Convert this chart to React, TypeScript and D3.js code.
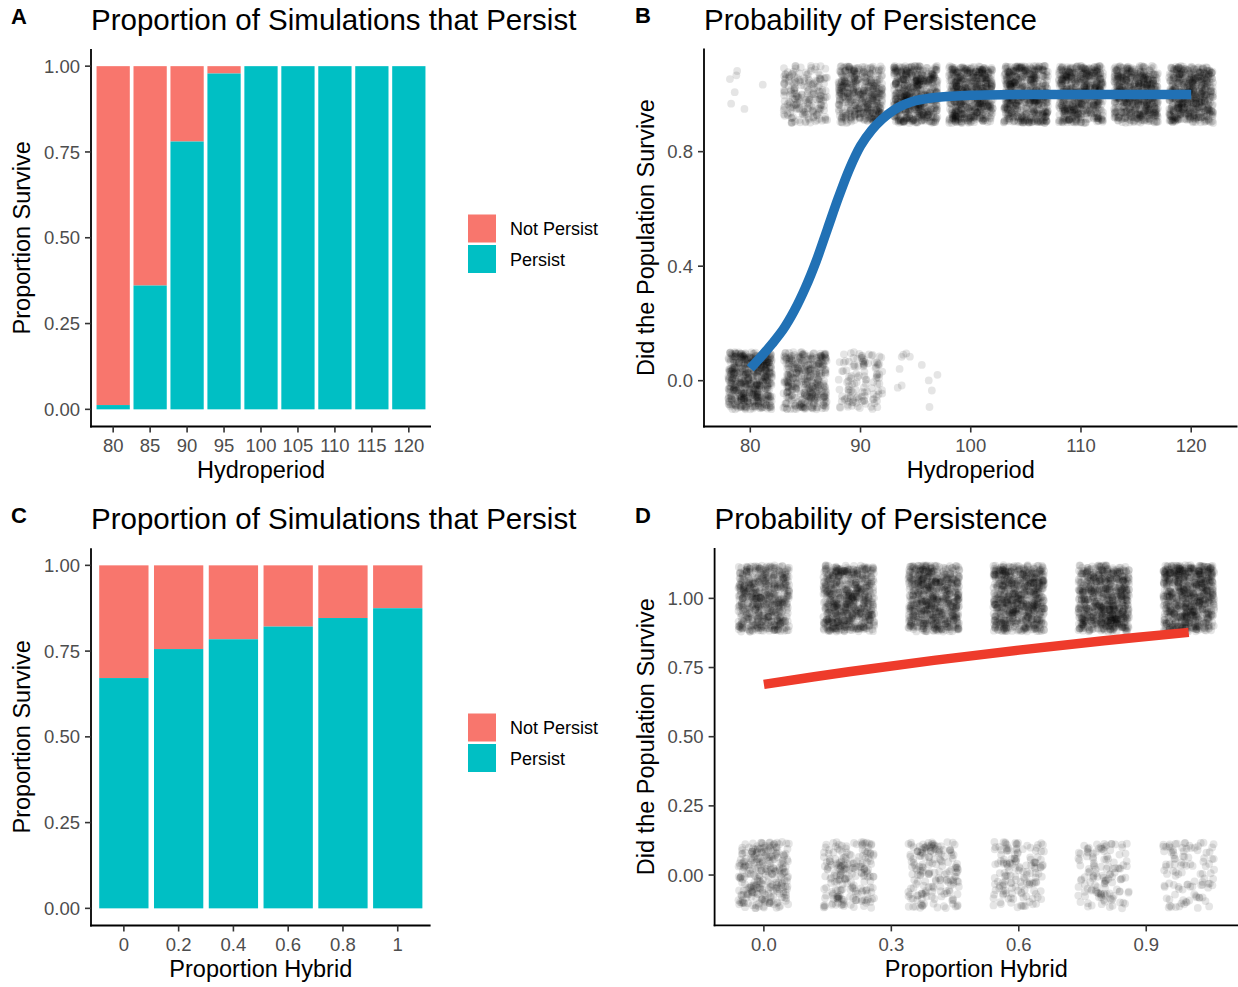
import React from "react";
import * as d3 from "d3";

// ---------- data ----------
const hydroperiods = [80, 85, 90, 95, 100, 105, 110, 115, 120];
const simsPerHydroperiod = 560;
const persistByHydroperiod = [7, 202, 437, 548, 560, 560, 560, 560, 560];

const hybridProps = [0, 0.2, 0.4, 0.6, 0.8, 1];
const hybridLabels = ["0", "0.2", "0.4", "0.6", "0.8", "1"];
const simsPerHybrid = 840;
const persistByHybrid = [564, 635, 659, 690, 711, 735];

// fitted probability curves
const hydroFitX = [80, 81, 82, 83, 84, 85, 86, 87, 88, 89, 90, 91, 92, 93, 94, 95, 97, 100, 105, 110, 115, 120];
const hydroFitP = [0.043, 0.085, 0.13, 0.18, 0.245, 0.325, 0.42, 0.53, 0.64, 0.74, 0.82, 0.875, 0.915, 0.945, 0.965, 0.978, 0.99, 0.997, 1, 1, 1, 1];
const hybridFitX = [0, 0.2, 0.4, 0.6, 0.8, 1];
const hybridFitP = [0.689, 0.735, 0.776, 0.813, 0.847, 0.877];

const propTicks = [0, 0.25, 0.5, 0.75, 1];
const hydroLinTicks = [80, 90, 100, 110, 120];
const survTicksB = [0, 0.4, 0.8];
const hybridLinTicks = [0, 0.3, 0.6, 0.9];
const survTicksD = [0, 0.25, 0.5, 0.75, 1];

const legendLabels = ["Not Persist", "Persist"];

// ---------- style ----------
const FONT = "'Liberation Sans', Arial, Helvetica, sans-serif";
const NOT_COLOR = "#F8766D";
const PERSIST_COLOR = "#00BFC4";
const TICK_FS = 18.5;
const AXT_FS = 23.5;
const TITLE_FS = 29.5;
const TICK_COLOR = "#4D4D4D";

// deterministic integer hash -> [0,1), used only for the visual jitter offsets
function hash01(n: number) {
  let h = n | 0;
  h = Math.imul(h ^ (h >>> 16), 0x45d9f3b);
  h = Math.imul(h ^ (h >>> 16), 0x45d9f3b);
  h ^= h >>> 16;
  return (h >>> 0) / 4294967296;
}

type Box = { left: number; right: number; top: number; bottom: number };

function Axes({ box, xTicks, yTicks }: { box: Box; xTicks: { pos: number; label: string }[]; yTicks: { pos: number; label: string }[] }) {
  return (
    <g>
      <line x1={box.left} x2={box.left} y1={box.top} y2={box.bottom + 0.9} stroke="#000" strokeWidth={1.8} />
      <line x1={box.left - 0.9} x2={box.right} y1={box.bottom} y2={box.bottom} stroke="#000" strokeWidth={1.8} />
      {xTicks.map((t, i) => (
        <g key={"x" + i}>
          <line x1={t.pos} x2={t.pos} y1={box.bottom} y2={box.bottom + 6} stroke="#333" strokeWidth={1.6} />
          <text x={t.pos} y={box.bottom + 25.5} textAnchor="middle" fontSize={TICK_FS} fill={TICK_COLOR} fontFamily={FONT}>
            {t.label}
          </text>
        </g>
      ))}
      {yTicks.map((t, i) => (
        <g key={"y" + i}>
          <line x1={box.left - 6} x2={box.left} y1={t.pos} y2={t.pos} stroke="#333" strokeWidth={1.6} />
          <text x={box.left - 11} y={t.pos + 6.6} textAnchor="end" fontSize={TICK_FS} fill={TICK_COLOR} fontFamily={FONT}>
            {t.label}
          </text>
        </g>
      ))}
    </g>
  );
}

function Titles({ box, title, tag, tagX, xTitle, yTitle, yTitleX }: any) {
  const cy = (box.top + box.bottom) / 2;
  return (
    <g fontFamily={FONT}>
      <text x={tagX} y={box.top - 25.5} fontSize={22} fontWeight="bold" fill="#000">{tag}</text>
      <text x={box.left} y={box.top - 19} fontSize={TITLE_FS} fill="#000">{title}</text>
      <text x={(box.left + box.right) / 2} y={box.bottom + 51.5} textAnchor="middle" fontSize={AXT_FS} fill="#000">{xTitle}</text>
      <text transform={`translate(${yTitleX},${cy}) rotate(-90)`} textAnchor="middle" fontSize={AXT_FS} fill="#000">{yTitle}</text>
    </g>
  );
}

function Legend({ x, y }: { x: number; y: number }) {
  const colors = [NOT_COLOR, PERSIST_COLOR];
  return (
    <g fontFamily={FONT}>
      {legendLabels.map((lab, i) => (
        <g key={lab}>
          <rect x={x} y={y + i * 30.5} width={28} height={28} fill={colors[i]} />
          <text x={x + 42} y={y + i * 30.5 + 20.5} fontSize={18} fill="#000">{lab}</text>
        </g>
      ))}
    </g>
  );
}

function BarPanel({ box, cats, catLabels, persist, total, title, tag, xTitle, legendY }: any) {
  const x = d3.scaleBand<number>().domain(cats).range([box.left, box.right]).paddingInner(0.1).paddingOuter(0.15);
  const y = d3.scaleLinear().domain([-0.05, 1.05]).range([box.bottom, box.top]);
  const bw = x.bandwidth();
  return (
    <g>
      {cats.map((c: number, i: number) => {
        const p = persist[i] / total;
        return (
          <g key={c}>
            <rect x={x(c)} y={y(1)} width={bw} height={y(p) - y(1)} fill={NOT_COLOR} />
            <rect x={x(c)} y={y(p)} width={bw} height={y(0) - y(p)} fill={PERSIST_COLOR} />
          </g>
        );
      })}
      <Axes
        box={box}
        xTicks={cats.map((c: number, i: number) => ({ pos: (x(c) as number) + bw / 2, label: catLabels[i] }))}
        yTicks={propTicks.map((t) => ({ pos: y(t), label: d3.format(".2f")(t) }))}
      />
      <Titles box={box} title={title} tag={tag} tagX={11} xTitle={xTitle} yTitle="Proportion Survive" yTitleX={30} />
      <Legend x={468} y={legendY} />
    </g>
  );
}

function JitterPanel({ box, cats, persist, total, xDomain, yDomain, jw, jh, xTicks, xFmt, yTicks, yFmt, fitX, fitP, lineColor, title, tag, xTitle, seed }: any) {
  const x = d3.scaleLinear().domain(xDomain).range([box.left, box.right]);
  const y = d3.scaleLinear().domain(yDomain).range([box.bottom, box.top]);
  const pts: { cx: number; cy: number }[] = [];
  let k = seed;
  cats.forEach((c: number, i: number) => {
    for (let j = 0; j < total; j++) {
      k += 1;
      const outcome = j < persist[i] ? 1 : 0;
      const u = hash01(2 * k + 1);
      const v = hash01(2 * k + 2);
      pts.push({ cx: x(c + (u * 2 - 1) * jw), cy: y(outcome + (v * 2 - 1) * jh) });
    }
  });
  const line = d3
    .line<number>()
    .x((_, i) => x(fitX[i]))
    .y((d) => y(d))
    .curve(d3.curveCatmullRom.alpha(0.5));
  return (
    <g>
      <g fill="#000" fillOpacity={0.1}>
        {pts.map((p, i) => (
          <circle key={i} cx={p.cx} cy={p.cy} r={3.9} />
        ))}
      </g>
      <path d={line(fitP) || ""} fill="none" stroke={lineColor} strokeWidth={9.5} />
      <Axes
        box={box}
        xTicks={xTicks.map((t: number) => ({ pos: x(t), label: d3.format(xFmt)(t) }))}
        yTicks={yTicks.map((t: number) => ({ pos: y(t), label: d3.format(yFmt)(t) }))}
      />
      <Titles box={box} title={title} tag={tag} tagX={635} xTitle={xTitle} yTitle="Did the Population Survive" yTitleX={654} />
    </g>
  );
}

export default function App() {
  const boxA = { left: 91, right: 431, top: 49, bottom: 426.5 };
  const boxB = { left: 704, right: 1237.5, top: 48.6, bottom: 426.5 };
  const boxC = { left: 91, right: 430.6, top: 548.2, bottom: 925.5 };
  const boxD = { left: 714.6, right: 1238, top: 548, bottom: 925.4 };
  return (
    <svg width={1238} height={987} style={{ position: "absolute", left: 0, top: 0, background: "#fff" }}>
      <rect x={0} y={0} width={1238} height={987} fill="#fff" />
      <BarPanel
        box={boxA}
        cats={hydroperiods}
        catLabels={hydroperiods.map(String)}
        persist={persistByHydroperiod}
        total={simsPerHydroperiod}
        title="Proportion of Simulations that Persist"
        tag="A"
        xTitle="Hydroperiod"
        legendY={214.5}
      />
      <JitterPanel
        box={boxB}
        cats={hydroperiods}
        persist={persistByHydroperiod}
        total={simsPerHydroperiod}
        xDomain={[75.8, 124.2]}
        yDomain={[-0.16, 1.16]}
        jw={2}
        jh={0.1}
        xTicks={hydroLinTicks}
        xFmt="d"
        yTicks={survTicksB}
        yFmt=".1f"
        fitX={hydroFitX}
        fitP={hydroFitP}
        lineColor="#2171B5"
        title="Probability of Persistence"
        tag="B"
        xTitle="Hydroperiod"
        seed={1700}
      />
      <BarPanel
        box={boxC}
        cats={hybridProps}
        catLabels={hybridLabels}
        persist={persistByHybrid}
        total={simsPerHybrid}
        title="Proportion of Simulations that Persist"
        tag="C"
        xTitle="Proportion Hybrid"
        legendY={713.5}
      />
      <JitterPanel
        box={boxD}
        cats={hybridProps}
        persist={persistByHybrid}
        total={simsPerHybrid}
        xDomain={[-0.116, 1.116]}
        yDomain={[-0.182, 1.182]}
        jw={0.06}
        jh={0.12}
        xTicks={hybridLinTicks}
        xFmt=".1f"
        yTicks={survTicksD}
        yFmt=".2f"
        fitX={hybridFitX}
        fitP={hybridFitP}
        lineColor="#EE3B2B"
        title="Probability of Persistence"
        tag="D"
        xTitle="Proportion Hybrid"
        seed={90010}
      />
    </svg>
  );
}
